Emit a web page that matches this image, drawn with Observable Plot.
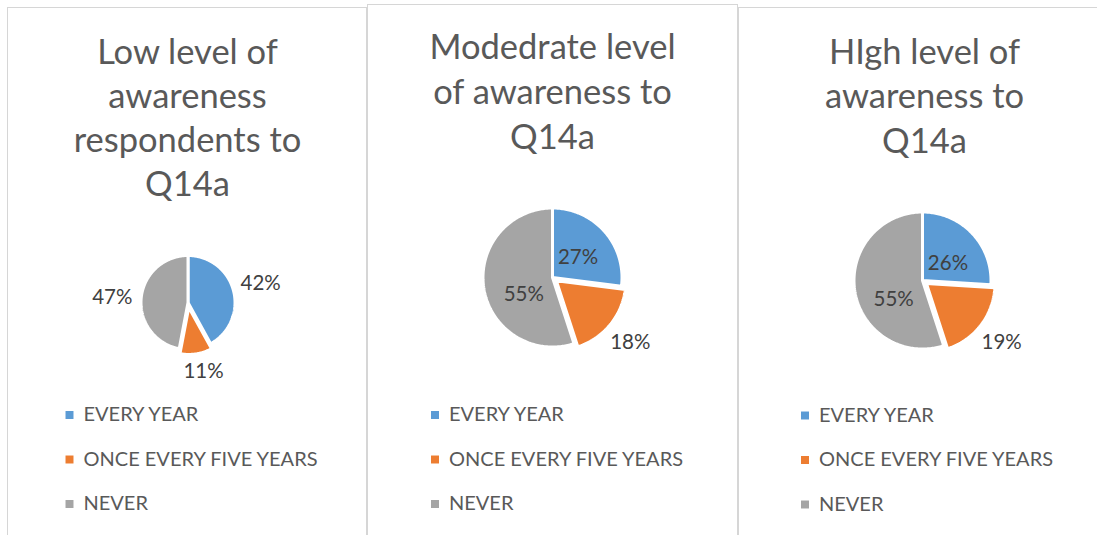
<!DOCTYPE html>
<html>
<head>
<meta charset="utf-8">
<script src="https://cdn.jsdelivr.net/npm/d3@7"></script>
<script src="https://cdn.jsdelivr.net/npm/@observablehq/plot@0.6"></script>
<style>
  html, body { margin: 0; padding: 0; background: #ffffff; }
  #wrap { position: relative; width: 1097px; height: 535px; overflow: hidden; background: #ffffff; }
  .frame { position: absolute; border: 1px solid #d6d6d6; box-sizing: border-box; }
  #chart { position: absolute; left: 0; top: 0; }
</style>
</head>
<body>
<div id="wrap">
  <div class="frame" style="left:7px; top:7px; width:360px; height:560px;"></div>
  <div class="frame" style="left:367px; top:4px; width:371px; height:560px;"></div>
  <div class="frame" style="left:738px; top:7px; width:400px; height:560px;"></div>
  <div id="chart"></div>
</div>
<script>
// ---- data ----
const categories = ["EVERY YEAR", "ONCE EVERY FIVE YEARS", "NEVER"];
const lowTitle = ["Low level of", "awareness", "respondents to", "Q14a"];
const moderateTitle = ["Modedrate level", "of awareness to", "Q14a"];
const highTitle = ["HIgh level of", "awareness to", "Q14a"];
const lowValues = [42, 11, 47];
const moderateValues = [27, 18, 55];
const highValues = [26, 19, 55];

// ---- style / layout ----
const colors = ["#5B9BD5", "#ED7D31", "#A5A5A5"];
const FONT = "Lato, 'Open Sans', sans-serif";
const layout = [
  {title: lowTitle, values: lowValues, cx: 187.5, cy: 302, r: 47, titleX: 187, baseline0: 63, lineStep: 44,
   legendX: 69, legendY: 414.5, place: ["out", "out", "out"], outGap: 28, nudge: [[0, 0], [3, -10], [-1, 2]]},
  {title: moderateTitle, values: moderateValues, cx: 552, cy: 277, r: 69.5, titleX: 552, baseline0: 58, lineStep: 45,
   legendX: 434.5, legendY: 414.5, place: ["in", "out", "in"], outGap: 33, nudge: [[1, 2], [-5, -4], [3.5, 11.5]]},
  {title: highTitle, values: highValues, cx: 922, cy: 280, r: 68.5, titleX: 924, baseline0: 63, lineStep: 44.5,
   legendX: 804.5, legendY: 415, place: ["in", "out", "in"], outGap: 33, nudge: [[2, 4.5], [-5, -3], [3, 14]]}
];
const explodeIndex = 1, explodeDist = 5;
const titleSize = 34.5, labelSize = 20.5, legendSize = 20, legendStep = 44.5;

const slicePts = [], labels = [], titleLines = [], legendRows = [];
layout.forEach((L, p) => {
  const arcs = d3.pie().sort(null)(L.values);
  arcs.forEach((a, i) => {
    const mid = (a.startAngle + a.endAngle) / 2;
    const ex = i === explodeIndex ? explodeDist : 0;
    const ox = L.cx + ex * Math.sin(mid), oy = L.cy - ex * Math.cos(mid);
    const key = p + "-" + i;
    slicePts.push({key, cat: categories[i], x: ox, y: oy});
    const n = Math.max(2, Math.ceil((a.endAngle - a.startAngle) / (Math.PI / 180)));
    for (let k = 0; k <= n; k++) {
      const t = a.startAngle + (a.endAngle - a.startAngle) * k / n;
      slicePts.push({key, cat: categories[i], x: ox + L.r * Math.sin(t), y: oy - L.r * Math.cos(t)});
    }
    slicePts.push({key, cat: categories[i], x: ox, y: oy});
    const d = L.place[i] === "out" ? L.r + L.outGap : L.r * 0.47;
    labels.push({
      text: Math.round(a.value) + "%",
      x: ox + d * Math.sin(mid) + L.nudge[i][0],
      y: oy - d * Math.cos(mid) + L.nudge[i][1]
    });
    legendRows.push({cat: categories[i], x: L.legendX, y: L.legendY + i * legendStep});
  });
  L.title.forEach((t, j) => {
    titleLines.push({text: t, x: L.titleX, y: L.baseline0 + j * L.lineStep - 0.32 * titleSize});
  });
});

const chart = Plot.plot({
  width: 1097,
  height: 535,
  margin: 0,
  style: {background: "transparent", fontFamily: FONT},
  x: {type: "linear", domain: [0, 1097], range: [0, 1097], axis: null},
  y: {type: "linear", domain: [0, 535], range: [0, 535], axis: null},
  color: {domain: categories, range: colors},
  marks: [
    Plot.line(slicePts, {x: "x", y: "y", z: "key", fill: "cat", stroke: "#ffffff", strokeWidth: 3, strokeLinejoin: "miter", curve: "linear"}),
    Plot.text(labels, {x: "x", y: "y", text: "text", fontSize: labelSize, fill: "#404040", fontFamily: FONT, lineAnchor: "middle"}),
    Plot.text(titleLines, {x: "x", y: "y", text: "text", fontSize: titleSize, fill: "#595959", fontFamily: FONT, lineAnchor: "middle"}),
    Plot.dot(legendRows, {x: "x", y: "y", fill: "cat", symbol: "square", r: 4.5}),
    Plot.text(legendRows, {x: d => d.x + 14, y: "y", text: "cat", textAnchor: "start", fontSize: legendSize, fill: "#595959", fontFamily: FONT, lineAnchor: "middle"})
  ]
});
document.getElementById("chart").appendChild(chart);
</script>
</body>
</html>
